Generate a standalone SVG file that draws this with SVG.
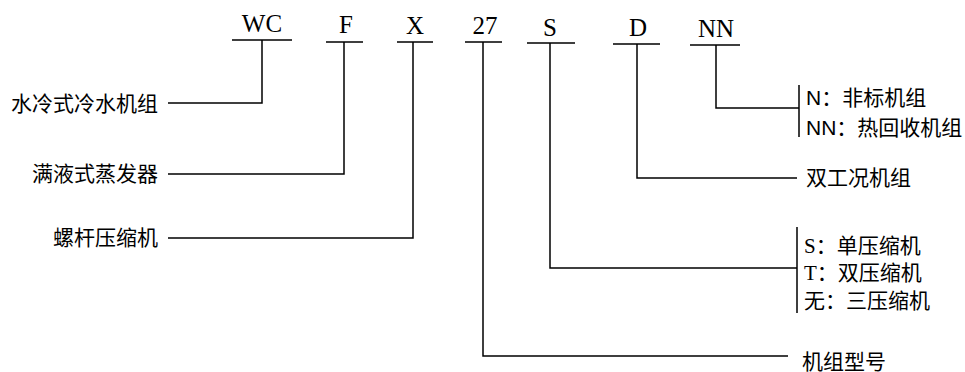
<svg xmlns="http://www.w3.org/2000/svg" width="965" height="372" viewBox="0 0 965 372">
<style>
.code{font-family:"Liberation Serif","Times New Roman",serif;font-size:25px;fill:#000;text-anchor:middle}
.cn{font-family:"Liberation Sans","Noto Sans CJK SC",sans-serif;font-size:21px;fill:#000}
.ser{font-family:"Liberation Serif","Noto Sans CJK SC",serif}
.ln{stroke:#000;stroke-width:1.5;fill:none}
</style>
<rect width="965" height="372" fill="#fff"/>
<g id="code-WC"><text class="code" x="262" y="32">WC</text></g>
<g id="code-F"><text class="code" x="346" y="33">F</text></g>
<g id="code-X"><text class="code" x="415" y="34">X</text></g>
<g id="code-27"><text class="code" x="485" y="34">27</text></g>
<g id="code-S"><text class="code" x="550" y="36">S</text></g>
<g id="code-D"><text class="code" x="638" y="36">D</text></g>
<g id="code-NN"><text class="code" x="716" y="37">NN</text></g>

<g id="label-water"><text class="cn" x="158" y="111" text-anchor="end">水冷式冷水机组</text></g>
<g id="label-evap"><text class="cn" x="158" y="181" text-anchor="end">满液式蒸发器</text></g>
<g id="label-screw"><text class="cn" x="158" y="245" text-anchor="end">螺杆压缩机</text></g>
<g id="label-NN"><text class="cn" x="806" y="105">N：非标机组</text><text class="cn" x="806" y="135">NN：热回收机组</text></g>
<g id="label-D"><text class="cn" x="806" y="185">双工况机组</text></g>
<g id="label-S"><text class="cn" x="804" y="253"><tspan class="ser">S</tspan>：单压缩机</text><text class="cn" x="804" y="280"><tspan class="ser">T</tspan>：双压缩机</text><text class="cn" x="804" y="308">无：三压缩机</text></g>
<g id="label-27"><text class="cn" x="802" y="369">机组型号</text></g>

<g id="connectors">
<path class="ln" d="M232 40H292M262 40V103H168"/>
<path class="ln" d="M326 42H363M344 42V174H168"/>
<path class="ln" d="M397 42H433M413 42V238H168"/>
<path class="ln" d="M465 42H502M483 42V356H788"/>
<path class="ln" d="M527 43H575M550 43V268H797M797 227V313"/>
<path class="ln" d="M613 44H660M637 44V178H797"/>
<path class="ln" d="M690 45H740M716 45V108H799M799 85V137"/>
</g>
</svg>
